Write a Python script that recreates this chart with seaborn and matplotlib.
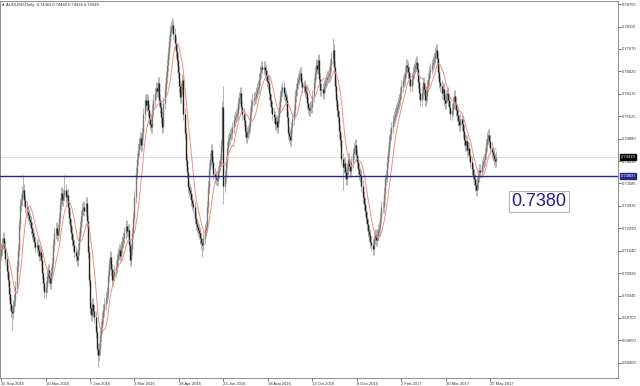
import numpy as np
import pandas as pd
import matplotlib
matplotlib.use("Agg")
import matplotlib.pyplot as plt
import matplotlib.transforms as mtransforms
import seaborn as sns

# ---------------- data ----------------
symbol_title = "AUDUSD,Daily  0.74361 0.74460 0.74324 0.74339"

closes_a = [0.7170, 0.7185, 0.7200, 0.7175, 0.7140, 0.7105, 0.7080, 0.7040, 0.7010, 0.6990,
            0.6984, 0.7005, 0.7022, 0.7060, 0.7120, 0.7166, 0.7240, 0.7296, 0.7310, 0.7335,
            0.7340, 0.7311, 0.7290, 0.7275, 0.7267, 0.7255, 0.7247, 0.7230, 0.7215, 0.7205,
            0.7190, 0.7175, 0.7180, 0.7166, 0.7150, 0.7160, 0.7137, 0.7100, 0.7070, 0.7045,
            0.7060, 0.7090, 0.7108, 0.7085, 0.7070, 0.7100, 0.7130, 0.7180, 0.7215, 0.7230,
            0.7210, 0.7224, 0.7260, 0.7300, 0.7331, 0.7310, 0.7325, 0.7340, 0.7320, 0.7325,
            0.7290, 0.7260, 0.7238, 0.7215, 0.7195, 0.7180, 0.7160, 0.7150, 0.7137, 0.7170,
            0.7205, 0.7233, 0.7265, 0.7285, 0.7290, 0.7280, 0.7302, 0.7250, 0.7160, 0.7080]
closes_b = [0.7000, 0.6978, 0.7010, 0.6990, 0.6973, 0.6930, 0.6880, 0.6863, 0.6880, 0.6920,
            0.6944, 0.6970, 0.6993, 0.7010, 0.7030, 0.7042, 0.7090, 0.7125, 0.7146, 0.7110,
            0.7080, 0.7095, 0.7105, 0.7117, 0.7140, 0.7155, 0.7166, 0.7150, 0.7175, 0.7190,
            0.7200, 0.7215, 0.7235, 0.7220, 0.7224, 0.7180, 0.7137, 0.7170, 0.7215, 0.7260,
            0.7320, 0.7389, 0.7430, 0.7455, 0.7475, 0.7490, 0.7470, 0.7504, 0.7560, 0.7599,
            0.7585, 0.7600, 0.7570, 0.7545, 0.7530, 0.7521, 0.7570, 0.7600, 0.7619, 0.7635,
            0.7625, 0.7648, 0.7600, 0.7579, 0.7550, 0.7521, 0.7590, 0.7630, 0.7666, 0.7700,
            0.7735, 0.7770, 0.7800, 0.7810, 0.7816, 0.7790, 0.7764, 0.7740, 0.7715, 0.7680]
closes_c = [0.7640, 0.7608, 0.7630, 0.7657, 0.7560, 0.7504, 0.7426, 0.7390, 0.7348, 0.7340,
            0.7331, 0.7310, 0.7300, 0.7290, 0.7260, 0.7240, 0.7233, 0.7225, 0.7215, 0.7200,
            0.7185, 0.7180, 0.7200, 0.7225, 0.7233, 0.7290, 0.7348, 0.7400, 0.7430, 0.7455,
            0.7420, 0.7385, 0.7377, 0.7370, 0.7368, 0.7390, 0.7410, 0.7426, 0.7470, 0.7580,
            0.7350, 0.7380, 0.7420, 0.7460, 0.7484, 0.7490, 0.7500, 0.7504, 0.7520, 0.7542,
            0.7550, 0.7555, 0.7562, 0.7590, 0.7605, 0.7619, 0.7580, 0.7560, 0.7542, 0.7510,
            0.7492, 0.7505, 0.7510, 0.7521, 0.7560, 0.7585, 0.7599, 0.7605, 0.7608, 0.7620,
            0.7630, 0.7637, 0.7660, 0.7680, 0.7695, 0.7690, 0.7695, 0.7686, 0.7670, 0.7655]
closes_d = [0.7648, 0.7620, 0.7599, 0.7580, 0.7560, 0.7550, 0.7530, 0.7540, 0.7521, 0.7550,
            0.7579, 0.7610, 0.7625, 0.7637, 0.7620, 0.7610, 0.7599, 0.7550, 0.7504, 0.7495,
            0.7484, 0.7520, 0.7545, 0.7570, 0.7610, 0.7630, 0.7648, 0.7660, 0.7670, 0.7677,
            0.7650, 0.7637, 0.7640, 0.7625, 0.7619, 0.7590, 0.7575, 0.7570, 0.7580, 0.7579,
            0.7610, 0.7650, 0.7677, 0.7700, 0.7690, 0.7715, 0.7660, 0.7628, 0.7630, 0.7619,
            0.7640, 0.7650, 0.7657, 0.7665, 0.7670, 0.7677, 0.7700, 0.7720, 0.7744, 0.7695,
            0.7640, 0.7599, 0.7570, 0.7550, 0.7510, 0.7484, 0.7430, 0.7406, 0.7417, 0.7390,
            0.7370, 0.7400, 0.7430, 0.7410, 0.7395, 0.7420, 0.7445, 0.7460, 0.7470, 0.7440]
closes_e = [0.7420, 0.7400, 0.7385, 0.7380, 0.7350, 0.7320, 0.7300, 0.7280, 0.7260, 0.7240,
            0.7220, 0.7210, 0.7190, 0.7180, 0.7170, 0.7200, 0.7210, 0.7195, 0.7210, 0.7225,
            0.7230, 0.7260, 0.7290, 0.7290, 0.7330, 0.7370, 0.7380, 0.7420, 0.7450, 0.7480,
            0.7500, 0.7520, 0.7540, 0.7550, 0.7560, 0.7570, 0.7580, 0.7590, 0.7600, 0.7620,
            0.7640, 0.7655, 0.7660, 0.7680, 0.7700, 0.7695, 0.7680, 0.7660, 0.7640, 0.7660,
            0.7680, 0.7690, 0.7700, 0.7710, 0.7690, 0.7650, 0.7620, 0.7600, 0.7620, 0.7650,
            0.7630, 0.7600, 0.7610, 0.7640, 0.7660, 0.7680, 0.7690, 0.7700, 0.7710, 0.7720,
            0.7735, 0.7745, 0.7720, 0.7680, 0.7650, 0.7640, 0.7620, 0.7630, 0.7600, 0.7590]
closes_f = [0.7610, 0.7620, 0.7600, 0.7580, 0.7560, 0.7570, 0.7590, 0.7610, 0.7590, 0.7570,
            0.7555, 0.7540, 0.7527, 0.7545, 0.7530, 0.7510, 0.7484, 0.7470, 0.7480, 0.7455,
            0.7460, 0.7440, 0.7420, 0.7400, 0.7383, 0.7370, 0.7354, 0.7340, 0.7360, 0.7380,
            0.7397, 0.7390, 0.7412, 0.7420, 0.7426, 0.7445, 0.7469, 0.7490, 0.7498, 0.7480,
            0.7460, 0.7450, 0.7440, 0.7430, 0.7424, 0.7434]
first_open = 0.7150

# notable extremes (bar index -> price)
high_marks = {20: 0.7382, 57: 0.7383, 154: 0.7836, 200: 0.7640, 298: 0.7778,
              391: 0.7750, 438: 0.7515}
low_marks = {10: 0.6935, 87: 0.6828, 181: 0.7145, 200: 0.7300, 307: 0.7339,
             334: 0.7160, 427: 0.7328}

date_labels = ["15 Sep 2015", "10 Nov 2015", "7 Jan 2016", "3 Mar 2016", "28 Apr 2016",
               "23 Jun 2016", "18 Aug 2016", "13 Oct 2016", "8 Dec 2016", "2 Feb 2017",
               "30 Mar 2017", "25 May 2017"]
price_ticks = [0.78765, 0.78115, 0.77470, 0.76820, 0.76175, 0.75525, 0.74880, 0.74230,
               0.73585, 0.72935, 0.72290, 0.71640, 0.70995, 0.70345, 0.69700, 0.69050, 0.68400]
support_level = 0.7380
last_price = 0.74339
ma_period = 10

# ---------------- build OHLC ----------------
closes = np.array(closes_a + closes_b + closes_c + closes_d + closes_e + closes_f)
n = len(closes)
idx = np.arange(n)
opens = np.concatenate([[first_open], closes[:-1]])
WICK = 0.0017  # drawing style: default wick length
highs = np.maximum(opens, closes) + WICK
lows = np.minimum(opens, closes) - WICK
for k, v in high_marks.items():
    highs[k] = max(highs[k], v)
for k, v in low_marks.items():
    lows[k] = min(lows[k], v)
ma = pd.Series(closes).rolling(ma_period, min_periods=1).mean().to_numpy()
df = pd.DataFrame({"bar": idx, "ma": ma})

# ---------------- plot ----------------
sns.set_theme(style="white")
plt.rcParams['font.family'] = ['Liberation Sans', 'DejaVu Sans']

fig = plt.figure(figsize=(6.4, 3.86), dpi=100)
ax = fig.add_axes([0.0, 0.0207, 0.9656, 0.9767])

ax.axhline(last_price, color='#d8d8d8', lw=0.6, zorder=0)
ax.vlines(idx, lows, highs, color='#b4b4b4', lw=0.7, zorder=1)
bull = closes >= opens
ax.vlines(idx[bull], opens[bull], closes[bull], color='#7a7a7a', lw=1.0, zorder=2)
ax.vlines(idx[~bull], closes[~bull], opens[~bull], color='#222222', lw=1.0, zorder=2)
sns.lineplot(data=df, x="bar", y="ma", ax=ax, color='#f28c8c', lw=0.7, zorder=3)
ax.axhline(support_level, color='#26268c', lw=1.0, zorder=4)

ax.set_xlim(-0.9, 554.6)
ax.set_ylim(0.67965, 0.78852)
ax.set_xlabel("")
ax.set_ylabel("")

ax.yaxis.tick_right()
ax.set_yticks(price_ticks)
ax.set_yticklabels([f"{v:.5f}" for v in price_ticks])
ax.tick_params(axis='y', which='both', right=True, left=False, length=2, width=0.5,
               pad=1, labelsize=3.0, colors='#333333')
ax.set_xticks(np.arange(0, 40 * len(date_labels), 40))
ax.set_xticklabels(date_labels, ha='left')
ax.tick_params(axis='x', bottom=True, length=2, width=0.5, pad=1, labelsize=3.0,
               colors='#333333')
for s in ax.spines.values():
    s.set_color('#8c8c8c')
    s.set_linewidth(0.7)

trans = mtransforms.blended_transform_factory(ax.transAxes, ax.transData)
ax.text(1.004, last_price, f"{last_price:.5f}", transform=trans, fontsize=3.0, color='white',
        va='center', ha='left', clip_on=False, zorder=6,
        bbox=dict(boxstyle='square,pad=0.2', fc='black', ec='black'))
ax.text(1.004, support_level, f"{support_level:.5f}", transform=trans, fontsize=3.0,
        color='white', va='center', ha='left', clip_on=False, zorder=6,
        bbox=dict(boxstyle='square,pad=0.2', fc='#26268c', ec='#26268c'))

ax.text(0.872, 0.468, f"{support_level:.4f}", transform=ax.transAxes, fontsize=13,
        color='#1e1e8c', ha='center', va='center', zorder=7,
        bbox=dict(boxstyle='square,pad=0.12', fc='white', ec='#b4b4b4', lw=0.8))

fig.text(1.5 / 640, 1 - 5 / 386, "▲", fontsize=2.4, color='#333333', va='center', ha='left',
         family=['DejaVu Sans'])
fig.text(6 / 640, 1 - 5 / 386, symbol_title, fontsize=3.0, color='#222222', va='center', ha='left')

fig.savefig("out.png", dpi=100)
